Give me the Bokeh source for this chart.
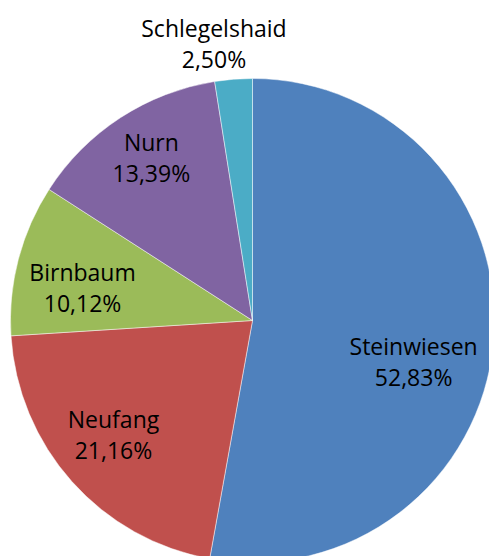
import math
from bokeh.plotting import figure
from bokeh.models import Range1d, ColumnDataSource
from bokeh.core.properties import value
from bokeh.embed import file_html
from bokeh.resources import INLINE

# ---- data ----
names = ["Steinwiesen", "Neufang", "Birnbaum", "Nurn", "Schlegelshaid"]
shares = [52.83, 21.16, 10.12, 13.39, 2.50]
pct_labels = ["52,83%", "21,16%", "10,12%", "13,39%", "2,50%"]
colors = ["#4F81BD", "#C0504D", "#9BBB59", "#8064A2", "#4BACC6"]

# ---- label placement (styling) ----
label_radius_frac = [0.697, 0.766, 0.709, 0.761, 1.117]
label_shift_deg = [12.1, 0.3, -6.7, -0.2, -3.7]

W, H = 489, 556
cx, cy, r = 252, 236, 242
half_gap = 15.5
lift = 9

total = sum(shares)
starts, ends, mids = [], [], []
cum = 0.0
for s in shares:
    a0 = math.pi / 2 - 2 * math.pi * cum / total
    cum += s
    a1 = math.pi / 2 - 2 * math.pi * cum / total
    starts.append(a0)
    ends.append(a1)
    mids.append((a0 + a1) / 2)

src = ColumnDataSource(dict(start=starts, end=ends, color=colors, name=names))

p = figure(width=W, height=H, output_backend="svg", toolbar_location=None,
           x_range=Range1d(0, W), y_range=Range1d(0, H), min_border=0,
           outline_line_color=None, background_fill_color="white")
p.axis.visible = False
p.grid.visible = False

p.wedge(x=cx, y=cy, radius=r, start_angle="start", end_angle="end",
        direction="clock", fill_color="color", line_color="white",
        line_width=0.6, line_alpha=0.8, source=src)

lx, ly = [], []
for m, f, d in zip(mids, label_radius_frac, label_shift_deg):
    a = m - math.radians(d)
    lx.append(cx + f * r * math.cos(a))
    ly.append(cy + f * r * math.sin(a) + lift)

lab = ColumnDataSource(dict(x=lx, y1=[y + half_gap for y in ly],
                            y2=[y - half_gap for y in ly],
                            name=names, pct=pct_labels))
common = dict(text_font=value("Open Sans"), text_font_size="23px",
              text_color="black", text_align="center",
              text_baseline="alphabetic", source=lab)
p.text(x="x", y="y1", text="name", **common)
p.text(x="x", y="y2", text="pct", **common)

open("out.html", "w").write(file_html(p, INLINE))
